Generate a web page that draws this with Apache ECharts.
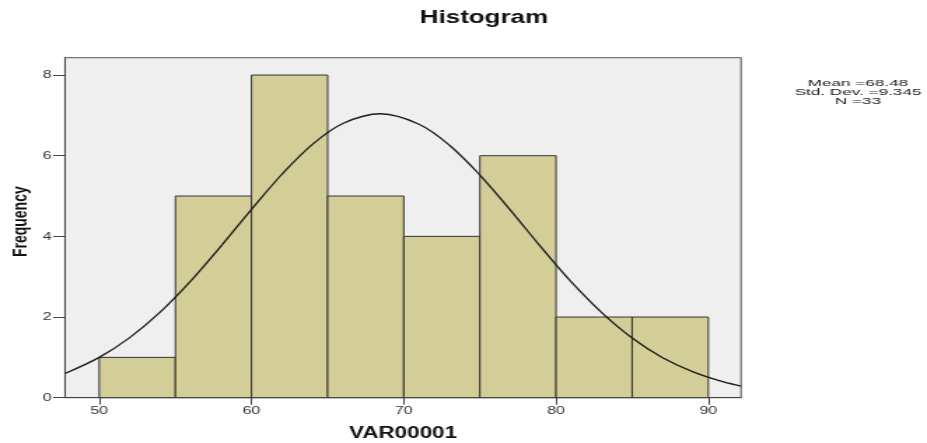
<!DOCTYPE html>
<html>
<head>
<meta charset="utf-8">
<script src="https://cdn.jsdelivr.net/npm/echarts@6/dist/echarts.min.js"></script>
<style>
html,body{margin:0;padding:0;background:#fff;}
#wrap{width:927px;height:443px;overflow:hidden;position:relative;}
#c{width:662px;height:443px;transform:scaleX(1.4003);transform-origin:0 0;}
</style>
</head>
<body>
<div id="wrap"><div id="c"></div></div>
<script>
// Histogram bins
const binStart = [50, 55, 60, 65, 70, 75, 80, 85];
const binEnd   = [55, 60, 65, 70, 75, 80, 85, 90];
const frequency = [1, 5, 8, 5, 4, 6, 2, 2];

// Normal curve
const curveX = [47.75, 50, 52, 54, 56, 58, 60, 62, 64, 66, 68.48, 71, 73, 75, 77, 79, 81, 83, 85, 87, 89, 91, 92.15];
const curveY = [0.60, 1.00, 1.49, 2.12, 2.89, 3.76, 4.67, 5.54, 6.28, 6.80, 7.04, 6.78, 6.26, 5.52, 4.65, 3.74, 2.87, 2.11, 1.48, 0.99, 0.64, 0.39, 0.29];

// Tick labels
const xTicks = [50, 60, 70, 80, 90];
const yTicks = [0, 2, 4, 6, 8];

// Texts
const titleText = 'Histogram';
const xName = 'VAR00001';
const yName = 'Frequency';
const statsLines = ['Mean =68.48', 'Std. Dev. =9.345', 'N =33'];

const barData = binStart.map((s, i) => [s, binEnd[i], frequency[i]]);
const lineData = curveX.map((x, i) => [x, curveY[i]]);

const chart = echarts.init(document.getElementById('c'), null, {renderer: 'canvas'});
const FONT = '"Liberation Sans", Arial, sans-serif';

chart.setOption({
  animation: false,
  backgroundColor: '#ffffff',
  grid: {
    left: 46.4, right: 132.8, top: 57.7, bottom: 45.3,
    outerBoundsMode: 'none', containLabel: false,
    show: true, backgroundColor: '#EFEFEF', borderColor: '#555', borderWidth: 1
  },
  xAxis: {
    type: 'value', min: 47.75, max: 92.15,
    name: xName, nameLocation: 'middle', nameGap: 28, nameMoveOverlap: false,
    nameTextStyle: {fontFamily: FONT, fontWeight: 'bold', fontSize: 16, color: '#111'},
    axisLine: {show: true, lineStyle: {color: '#444', width: 1}},
    axisTick: {show: true, length: 7, lineStyle: {color: '#444'}, customValues: xTicks},
    axisLabel: {show: true, margin: 7, fontFamily: FONT, fontSize: 11.5, color: '#333', customValues: xTicks},
    splitLine: {show: false}
  },
  yAxis: {
    type: 'value', min: 0, max: 8.43,
    name: yName, nameLocation: 'middle', nameGap: 24, nameRotate: 90, nameMoveOverlap: false,
    nameTextStyle: {fontFamily: FONT, fontWeight: 'bold', fontSize: 14, color: '#111', padding: [0, 0, 0, 12]},
    axisLine: {show: true, lineStyle: {color: '#444', width: 1}},
    axisTick: {show: true, length: 8.4, lineStyle: {color: '#444'}, customValues: yTicks},
    axisLabel: {show: true, margin: 9.5, fontFamily: FONT, fontSize: 11.5, color: '#333', customValues: yTicks},
    splitLine: {show: false}
  },
  graphic: [
    {
      type: 'text', x: 345.6, y: 18, z: 10,
      style: {text: titleText, font: 'bold 18.5px ' + FONT, fill: '#111',
        textAlign: 'center', textVerticalAlign: 'middle', align: 'center', verticalAlign: 'middle'}
    },
    {
      type: 'text', x: 612.7, y: 92.5, scaleX: 1.36, z: 10,
      style: {text: statsLines.join('\n'), font: '9px ' + FONT, fill: '#222', lineHeight: 9,
        textAlign: 'center', textVerticalAlign: 'middle', align: 'center', verticalAlign: 'middle'}
    }
  ],
  series: [
    {
      type: 'custom',
      data: barData,
      encode: {x: [0, 1], y: 2},
      z: 2,
      renderItem: function (params, api) {
        const p0 = api.coord([api.value(0), api.value(2)]);
        const p1 = api.coord([api.value(1), 0]);
        return {
          type: 'rect',
          shape: {x: p0[0], y: p0[1], width: p1[0] - p0[0], height: p1[1] - p0[1]},
          style: {fill: '#D3CE97', stroke: '#333', lineWidth: 1}
        };
      }
    },
    {
      type: 'line',
      data: lineData,
      smooth: 0.35,
      symbol: 'none',
      z: 5,
      lineStyle: {color: '#1a1a1a', width: 1.3},
      clip: true
    }
  ]
});
</script>
</body>
</html>
